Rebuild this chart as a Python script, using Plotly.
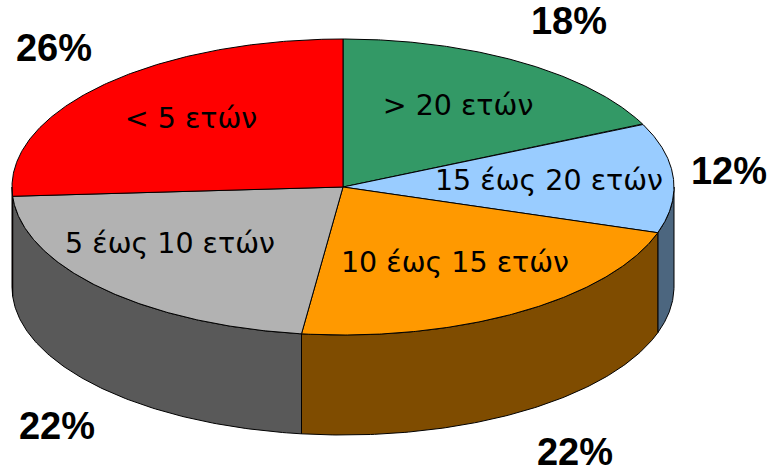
import numpy as np
import plotly.graph_objects as go

# ---- data ----
categories = ["> 20 ετών", "15 έως 20 ετών", "10 έως 15 ετών", "5 έως 10 ετών", "< 5 ετών"]
values = [18, 12, 22, 22, 26]
pct_labels = ["18%", "12%", "22%", "22%", "26%"]

# ---- styles / layout ----
top_colors = ["#339966", "#99CCFF", "#FF9900", "#B2B2B2", "#FF0000"]
side_colors = ["#1A4C33", "#4C667F", "#7F4C00", "#595959", "#7F0000"]
W, H = 770, 472
CX, CY, RX, RY, DEPTH = 343, 187, 331, 148, 100
cat_label_pos = [(458, 108), (549, 183), (455, 265), (170, 246), (191, 121)]
pct_label_pos = [(569, 24), (729, 174), (575, 455), (57, 429), (54, 51)]


def pt(t, dz=0.0):
    return CX + RX * np.sin(t), CY - RY * np.cos(t) + dz


fig = go.Figure()
total = float(sum(values))
bounds = np.concatenate([[0], np.cumsum(values)]) / total * 2 * np.pi

# sides (front half only: pi/2 .. 3pi/2 clockwise from top)
for i in range(len(values)):
    a0, a1 = max(bounds[i], np.pi / 2), min(bounds[i + 1], 3 * np.pi / 2)
    if a1 <= a0:
        continue
    t = np.linspace(a0, a1, 120)
    xt, yt = pt(t)
    xb, yb = pt(t[::-1], DEPTH)
    xs = np.concatenate([xt, xb, xt[:1]])
    ys = np.concatenate([yt, yb, yt[:1]])
    fig.add_trace(go.Scatter(x=xs, y=ys, mode="lines", fill="toself",
                             fillcolor=side_colors[i],
                             line=dict(color="black", width=1),
                             hoverinfo="skip", showlegend=False))

# top faces
for i in range(len(values)):
    t = np.linspace(bounds[i], bounds[i + 1], 200)
    xa, ya = pt(t)
    xs = np.concatenate([[CX], xa, [CX]])
    ys = np.concatenate([[CY], ya, [CY]])
    fig.add_trace(go.Scatter(x=xs, y=ys, mode="lines", fill="toself",
                             fillcolor=top_colors[i],
                             line=dict(color="black", width=1),
                             hoverinfo="text", text=f"{categories[i]}: {values[i]}%",
                             showlegend=False))

# category labels
fig.add_trace(go.Scatter(x=[p[0] for p in cat_label_pos], y=[p[1] for p in cat_label_pos],
                         mode="text", text=categories, textposition="middle center",
                         textfont=dict(family="DejaVu Sans", size=28.5, color="black"),
                         hoverinfo="skip", showlegend=False))
# percentage labels
fig.add_trace(go.Scatter(x=[p[0] for p in pct_label_pos], y=[p[1] for p in pct_label_pos],
                         mode="text", text=[f"<b>{s}</b>" for s in pct_labels],
                         textposition="middle center",
                         textfont=dict(family="Liberation Sans", size=38, color="black"),
                         hoverinfo="skip", showlegend=False))

fig.update_layout(width=W, height=H, margin=dict(l=0, r=0, t=0, b=0),
                  paper_bgcolor="white", plot_bgcolor="white",
                  xaxis=dict(range=[0, W], visible=False, fixedrange=True),
                  yaxis=dict(range=[H, 0], visible=False, fixedrange=True),
                  showlegend=False)
fig.write_html("out.html", config={"displayModeBar": False})

with open("out.html", "r", encoding="utf-8") as f:
    html = f.read()
html = html.replace("<head>", "<head><style>html,body{margin:0;padding:0;overflow:hidden;}</style>", 1)
with open("out.html", "w", encoding="utf-8") as f:
    f.write(html)
